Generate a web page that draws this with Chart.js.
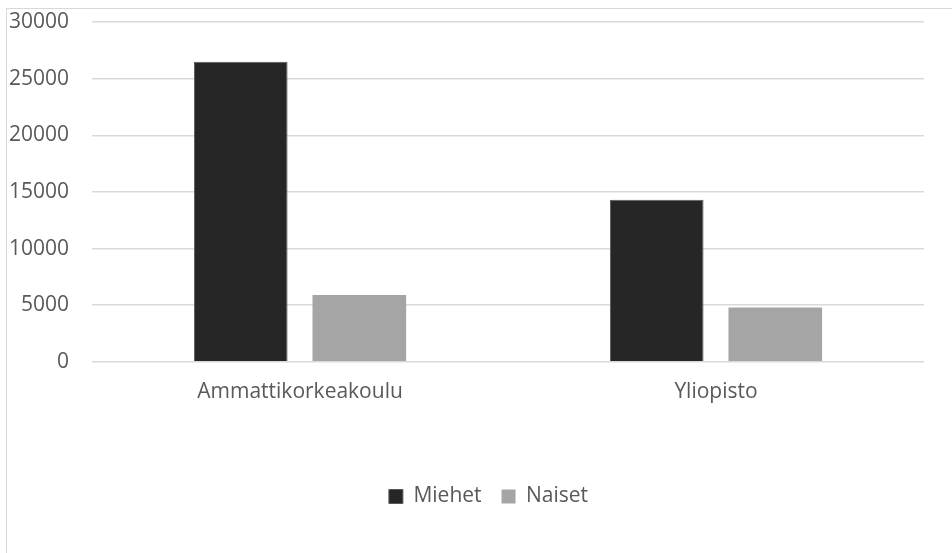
<!DOCTYPE html>
<html>
<head>
<meta charset="utf-8">
<style>
  html, body { margin: 0; padding: 0; background: #fff; overflow: hidden; }
  #frame {
    position: absolute; left: 6px; top: 8px;
    width: 980px; height: 600px;
    border: 1px solid #d9d9d9;
  }
  #wrap { position: absolute; left: 0; top: 0; width: 952px; height: 553px; }
</style>
</head>
<body>
<div id="frame"></div>
<div id="wrap"><canvas id="eduChart" width="952" height="553"></canvas></div>

<script src="https://cdn.jsdelivr.net/npm/chart.js"></script>
<script>
  const categories = ["Ammattikorkeakoulu", "Yliopisto"];
  const miehet = [26500, 14300];
  const naiset = [5900, 4800];
  const yTicks = [0, 5000, 10000, 15000, 20000, 25000, 30000];

  const textColor = "#595959";
  const font = { family: "'Open Sans', sans-serif", size: 21 };

  // legend is centred on the whole frame, not only the plot
  const legendShift = {
    id: "legendShift",
    afterLayout(chart) {
      chart.legend.left += 22;
      chart.legend.right += 22;
    },
  };

  const ctx = document.getElementById("eduChart").getContext("2d");

  new Chart(ctx, {
    type: "bar",
    plugins: [legendShift],
    data: {
      labels: categories,
      datasets: [
        {
          label: "Miehet",
          data: miehet,
          backgroundColor: "#262626",
          borderColor: "#595959",
          borderWidth: 1,
          barPercentage: 0.79,
          categoryPercentage: 0.57,
        },
        {
          label: "Naiset",
          data: naiset,
          backgroundColor: "#a5a5a5",
          borderWidth: 0,
          barPercentage: 0.79,
          categoryPercentage: 0.57,
        },
      ],
    },
    options: {
      responsive: false,
      animation: false,
      maintainAspectRatio: false,
      layout: { padding: { left: 9, right: 28, top: 22, bottom: 36 } },
      plugins: {
        tooltip: { enabled: false },
        legend: {
          position: "bottom",
          labels: {
            color: textColor,
            font: font,
            boxWidth: 14,
            boxHeight: 14,
            padding: 20,
          },
        },
      },
      scales: {
        x: {
          grid: { display: false, drawTicks: false },
          border: { display: false },
          ticks: { color: textColor, font: font, padding: 18 },
          afterFit: function (scale) {
            scale.height += 43;
          },
        },
        y: {
          min: 0,
          max: 30000,
          afterBuildTicks: function (scale) {
            scale.ticks = yTicks.map((v) => ({ value: v }));
          },
          // transparent tick marks give the gap between labels and grid
          grid: {
            color: "#d9d9d9",
            lineWidth: 1.5,
            drawTicks: true,
            tickLength: 23,
            tickColor: "rgba(0,0,0,0)",
          },
          border: { display: false },
          ticks: {
            color: textColor,
            font: font,
            padding: 0,
            callback: function (value) {
              return String(value);
            },
          },
        },
      },
    },
  });
</script>
</body>
</html>
